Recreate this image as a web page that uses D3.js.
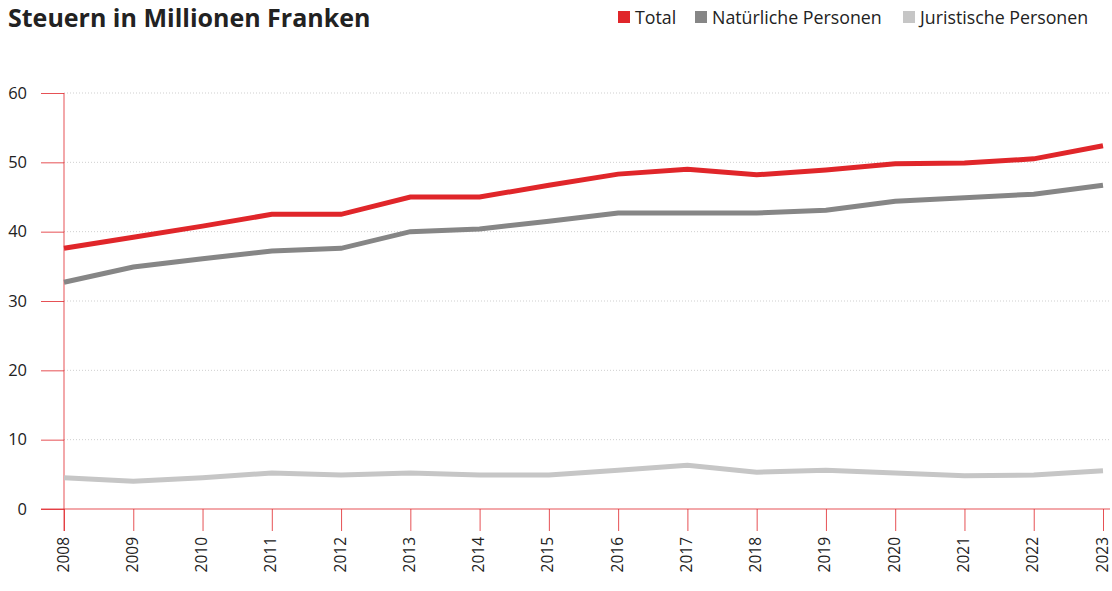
<!DOCTYPE html>
<html>
<head>
<meta charset="utf-8">
<script src="https://cdn.jsdelivr.net/npm/d3@7"></script>
<style>
  body { margin: 0; background: #fff; }
  text { font-family: "Open Sans", "Noto Sans", sans-serif; fill: #222; }
</style>
</head>
<body>
<div id="chart"></div>
<script>
var width = 1112;
var height = 591;

var years = [2008, 2009, 2010, 2011, 2012, 2013, 2014, 2015, 2016, 2017, 2018, 2019, 2020, 2021, 2022, 2023];
var total = [37.6, 39.2, 40.8, 42.5, 42.5, 45.0, 45.0, 46.7, 48.3, 49.0, 48.2, 48.9, 49.8, 49.9, 50.5, 52.4];
var natuerlich = [32.7, 34.9, 36.1, 37.2, 37.6, 40.0, 40.4, 41.5, 42.7, 42.7, 42.7, 43.1, 44.4, 44.9, 45.4, 46.7];
var juristisch = [4.5, 4.0, 4.5, 5.2, 4.9, 5.2, 4.9, 4.9, 5.6, 6.3, 5.3, 5.6, 5.2, 4.8, 4.9, 5.5];
var yTicks = [0, 10, 20, 30, 40, 50, 60];

var seriesNames = ["Total", "Natürliche Personen", "Juristische Personen"];
var seriesColors = ["#e0262a", "#868686", "#c6c6c6"];
var seriesData = [total, natuerlich, juristisch];

var svg = d3.select("#chart")
    .append("svg")
    .attr("width", width)
    .attr("height", height);

var x = d3.scaleLinear()
    .domain([2008, 2023])
    .range([64, 1103]);

var y = d3.scaleLinear()
    .domain([0, 60])
    .range([509, 93]);

// title
svg.append("text")
    .attr("x", 8)
    .attr("y", 27)
    .attr("font-size", 25)
    .attr("font-weight", "bold")
    .text("Steuern in Millionen Franken");

// legend
var legendX = [618, 695, 903];
seriesNames.forEach(function(name, k) {
    svg.append("rect")
        .attr("x", legendX[k])
        .attr("y", 11)
        .attr("width", 12)
        .attr("height", 12)
        .attr("fill", seriesColors[k]);
    svg.append("text")
        .attr("x", legendX[k] + 17)
        .attr("y", 24)
        .attr("font-size", 17.8)
        .text(name);
});

// grid lines
svg.selectAll("line.grid")
    .data(yTicks.filter(function(d) { return d > 0; }))
    .enter()
    .append("line")
    .attr("class", "grid")
    .attr("x1", 64)
    .attr("x2", 1110)
    .attr("y1", function(d) { return y(d); })
    .attr("y2", function(d) { return y(d); })
    .attr("stroke", "#cfcfcf")
    .attr("stroke-width", 1)
    .attr("stroke-dasharray", "1,2");

// y axis
var yAxis = svg.append("g")
    .attr("transform", "translate(64,0)")
    .call(d3.axisLeft(y).tickValues(yTicks).tickSize(23).tickPadding(14));
yAxis.select(".domain").remove();
yAxis.selectAll("line").attr("stroke", "#e0262a").attr("stroke-opacity", 0.8);
yAxis.selectAll("text")
    .attr("font-size", 16.5)
    .attr("fill", "#222")
    .style("font-family", "'Open Sans', sans-serif");

svg.append("line")
    .attr("x1", 64).attr("x2", 64)
    .attr("y1", y(60)).attr("y2", 531)
    .attr("stroke", "#e0262a")
    .attr("stroke-opacity", 0.8);

// x axis
var xAxis = svg.append("g")
    .attr("transform", "translate(0," + y(0) + ")")
    .call(d3.axisBottom(x).tickValues(years).tickFormat(d3.format("d")).tickSize(22));
xAxis.select(".domain").remove();
xAxis.selectAll("line").attr("stroke", "#e0262a").attr("stroke-opacity", 0.8);
xAxis.selectAll("text")
    .attr("font-size", 15.5)
    .attr("fill", "#222")
    .style("font-family", "'Open Sans', sans-serif")
    .attr("text-anchor", "end")
    .attr("transform", "translate(0,6) rotate(-90)")
    .attr("x", -22)
    .attr("y", 0)
    .attr("dy", "0.26em");

svg.append("line")
    .attr("x1", 41).attr("x2", 1110)
    .attr("y1", y(0)).attr("y2", y(0))
    .attr("stroke", "#e0262a")
    .attr("stroke-opacity", 0.8);

// lines
var line = d3.line()
    .x(function(d, j) { return x(years[j]); })
    .y(function(d) { return y(d); });

[2, 1, 0].forEach(function(k) {
    svg.append("path")
        .datum(seriesData[k])
        .attr("d", line)
        .attr("fill", "none")
        .attr("stroke", seriesColors[k])
        .attr("stroke-width", 5);
});
</script>
</body>
</html>
